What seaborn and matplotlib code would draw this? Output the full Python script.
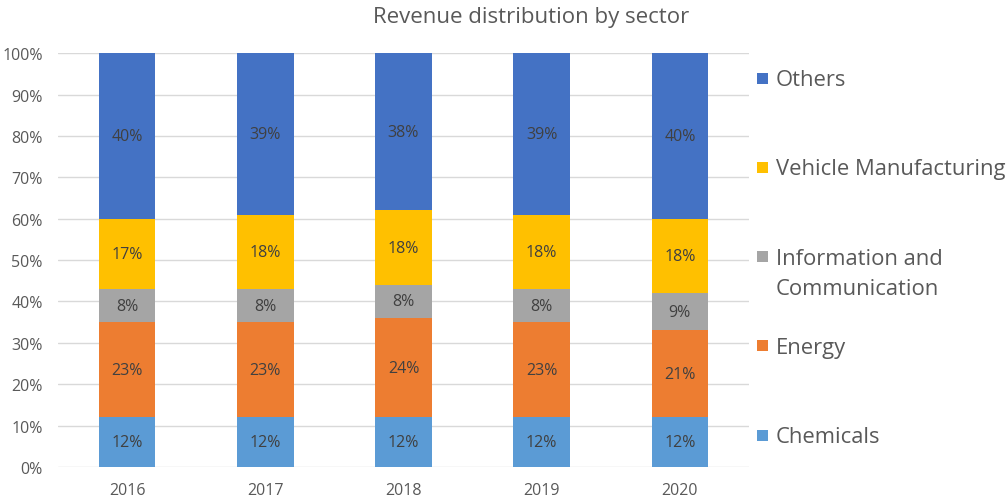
import matplotlib
matplotlib.use("Agg")
import matplotlib.pyplot as plt
from matplotlib.patches import Rectangle
import numpy as np
import pandas as pd
import seaborn as sns

# Revenue shares per year (percent), bottom to top of each stacked bar
years = ["2016", "2017", "2018", "2019", "2020"]
chemicals = [12, 12, 12, 12, 12]
energy = [23, 23, 24, 23, 21]
info_comm = [8, 8, 8, 8, 9]
vehicle = [17, 18, 18, 18, 18]
others = [40, 39, 38, 39, 40]

sectors = ["Chemicals", "Energy", "Information and\nCommunication",
           "Vehicle Manufacturing", "Others"]
series = [chemicals, energy, info_comm, vehicle, others]
colors = ["#5B9BD5", "#ED7D31", "#A5A5A5", "#FFC000", "#4472C4"]

sns.set_theme(style="white")
plt.rcParams["font.family"] = ["Open Sans", "DejaVu Sans"]

fig = plt.figure(figsize=(10.08, 5.02), dpi=100)
ax = fig.add_axes([0.0575, 0.0677, 0.6855, 0.8245])

vals = np.array(series, dtype=float)
cum = np.cumsum(vals, axis=0)

# Stack by overlaying cumulative totals, tallest first
for i in range(len(series) - 1, -1, -1):
    df = pd.DataFrame({"year": years, "top": cum[i]})
    sns.barplot(data=df, x="year", y="top", color=colors[i], width=0.41,
                saturation=1, ax=ax, zorder=2, linewidth=0)

# Segment labels
for i in range(len(series)):
    for j in range(len(years)):
        mid = cum[i, j] - vals[i, j] / 2
        ax.text(j, mid, f"{vals[i, j]:.0f}%", ha="center", va="center",
                fontsize=11.5, color="#404040", zorder=3)

ax.set_xlim(-0.5, len(years) - 0.5)
ax.set_ylim(0, 100)
ax.set_yticks(np.arange(0, 101, 10))
ax.set_yticklabels([f"{t}%" for t in range(0, 101, 10)])
ax.set_xlabel("")
ax.set_ylabel("")
ax.yaxis.grid(True, color="#D9D9D9", linewidth=1, zorder=0)
ax.set_axisbelow(True)
for s in ax.spines.values():
    s.set_visible(False)
ax.tick_params(axis="both", length=0, labelsize=11.5, labelcolor="#595959")
ax.tick_params(axis="y", pad=11)
ax.tick_params(axis="x", pad=11)

fig.text(0.527, 1 - 17 / 502, "Revenue distribution by sector",
         ha="center", va="center", fontsize=16, color="#595959")

# Legend, top entry first
W, H = 1008, 502
step = 89.3
y0 = 79
for k, i in enumerate(range(len(series) - 1, -1, -1)):
    yc = y0 + k * step
    fig.patches.append(Rectangle((757 / W, 1 - (yc + 5.5) / H), 11 / W, 11 / H,
                                 transform=fig.transFigure, color=colors[i],
                                 linewidth=0))
    fig.text(776 / W, 1 - (yc - 9) / H, sectors[i], ha="left", va="top",
             fontsize=15.8, color="#595959", linespacing=1.6)

fig.savefig("out.png", dpi=100)
